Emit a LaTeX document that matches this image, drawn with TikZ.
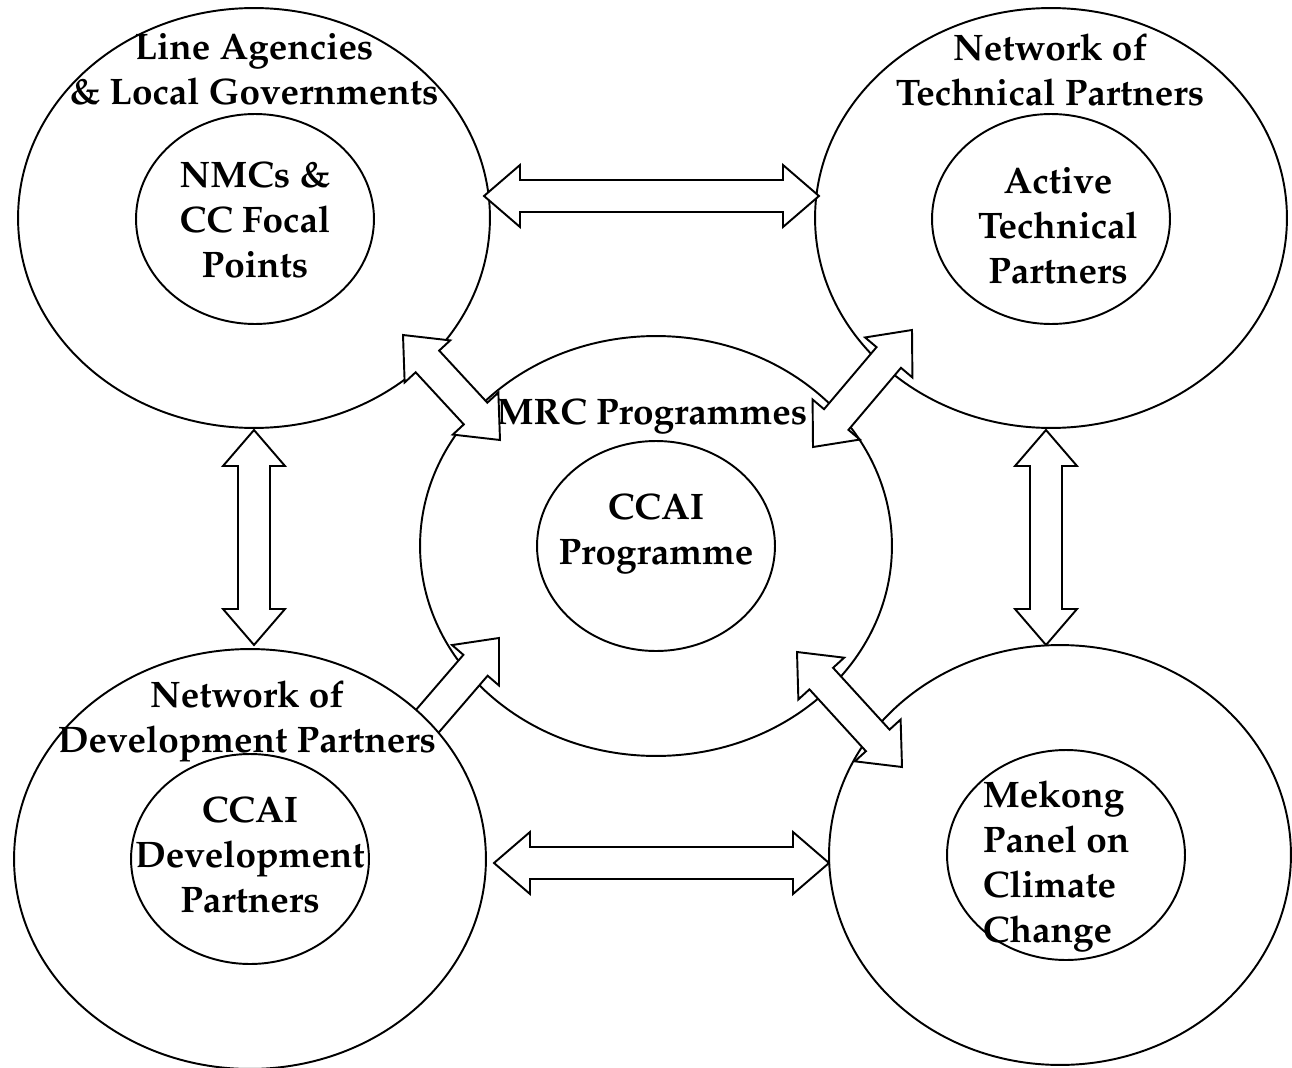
\documentclass[tikz,border=0pt]{standalone}
\usepackage[T1]{fontenc}
\usepackage{mathpazo}
\usetikzlibrary{shapes.geometric,calc}
\newcommand{\hdlen}{0.72cm}
\newcommand{\hdwid}{0.62cm}
\newcommand{\shwid}{0.32cm}
\newcommand{\twoway}[2]{%
\coordinate (h1) at ($(#1)!\hdlen!(#2)$);\coordinate (h2) at ($(#2)!\hdlen!(#1)$);
\filldraw[blk] (#1)--($(h1)!\hdwid!90:(#2)$)--($(h1)!\shwid!90:(#2)$)--($(h2)!\shwid!-90:(#1)$)--($(h2)!\hdwid!-90:(#1)$)--(#2)--($(h2)!\hdwid!90:(#1)$)--($(h2)!\shwid!90:(#1)$)--($(h1)!\shwid!-90:(#2)$)--($(h1)!\hdwid!-90:(#2)$)--cycle;}
\newcommand{\oneway}[2]{%
\coordinate (h2) at ($(#2)!\hdlen!(#1)$);
\filldraw[blk] ($(#1)!\shwid!90:(#2)$)--($(h2)!\shwid!-90:(#1)$)--($(h2)!\hdwid!-90:(#1)$)--(#2)--($(h2)!\hdwid!90:(#1)$)--($(h2)!\shwid!90:(#1)$)--($(#1)!\shwid!-90:(#2)$)--cycle;}
\begin{document}
\begin{tikzpicture}[x=0.02cm,y=-0.02cm,line width=1.1pt,
outer/.style={draw,ellipse,fill=white,minimum width=9.44cm,minimum height=8.4cm,inner sep=0pt},
inner/.style={draw,ellipse,minimum width=4.76cm,minimum height=4.2cm,inner sep=0pt},
lbl/.style={font=\fontsize{21}{25.6}\selectfont\bfseries,align=center,inner sep=0pt},
blk/.style={draw,fill=white,line join=miter}]
\useasboundingbox (0,0) rectangle (1292,1068);
\node[outer] (mrc) at (656,546) {};\node[inner] (ccai) at (656,546) {};
\coordinate (ndpNE) at (412,739);\coordinate (mrcSW) at (499,638);
\oneway{ndpNE}{mrcSW}
\node[outer] (la) at (254,218) {};\node[inner] (nmc) at (255,219) {};
\node[outer] (ntp) at (1051,218) {};\node[inner] (atp) at (1051,219) {};
\node[outer] (ndp) at (250,859) {};\node[inner] (cdp) at (250,859) {};
\node[outer,minimum width=9.24cm] (mpc) at (1060,855) {};\node[inner] (mpcc) at (1066,855) {};
\node[lbl] (laT) at (254,69) {Line Agencies\\\& Local Governments};
\node[lbl] (nmcT) at (255,220) {NMCs \&\\CC Focal\\Points};
\node[lbl] (ntpT) at (1050,70) {Network of\\Technical Partners};
\node[lbl] (atpT) at (1058,226) {Active\\Technical\\Partners};
\node[lbl] (mrcT) at (652,416) {MRC Programmes};
\node[lbl] (ccaiT) at (656,534) {CCAI\\Programme};
\node[lbl] (ndpT) at (247,721) {Network of\\Development Partners};
\node[lbl] (cdpT) at (250,855) {CCAI\\Development\\Partners};
\node[lbl,align=left,anchor=west] (mpcT) at (982,866) {Mekong\\Panel on\\Climate\\Change};
\coordinate (laE) at (484,196);\coordinate (ntpW) at (819,196);
\coordinate (ndpE) at (494,863);\coordinate (mpcW) at (829,863);
\coordinate (laS) at (254,430);\coordinate (ndpN) at (254,645);
\coordinate (ntpS) at (1046,430);\coordinate (mpcN) at (1046,645);
\coordinate (laSE) at (403,335);\coordinate (mrcNW) at (500,440);
\coordinate (ntpSW) at (912,330);\coordinate (mrcNE) at (813,447);
\coordinate (mrcSE) at (797,652);\coordinate (mpcNW) at (902,767);
\twoway{laE}{ntpW}\twoway{ndpE}{mpcW}
\twoway{laS}{ndpN}\twoway{ntpS}{mpcN}
\twoway{laSE}{mrcNW}\twoway{ntpSW}{mrcNE}\twoway{mrcSE}{mpcNW}
\end{tikzpicture}
\end{document}
